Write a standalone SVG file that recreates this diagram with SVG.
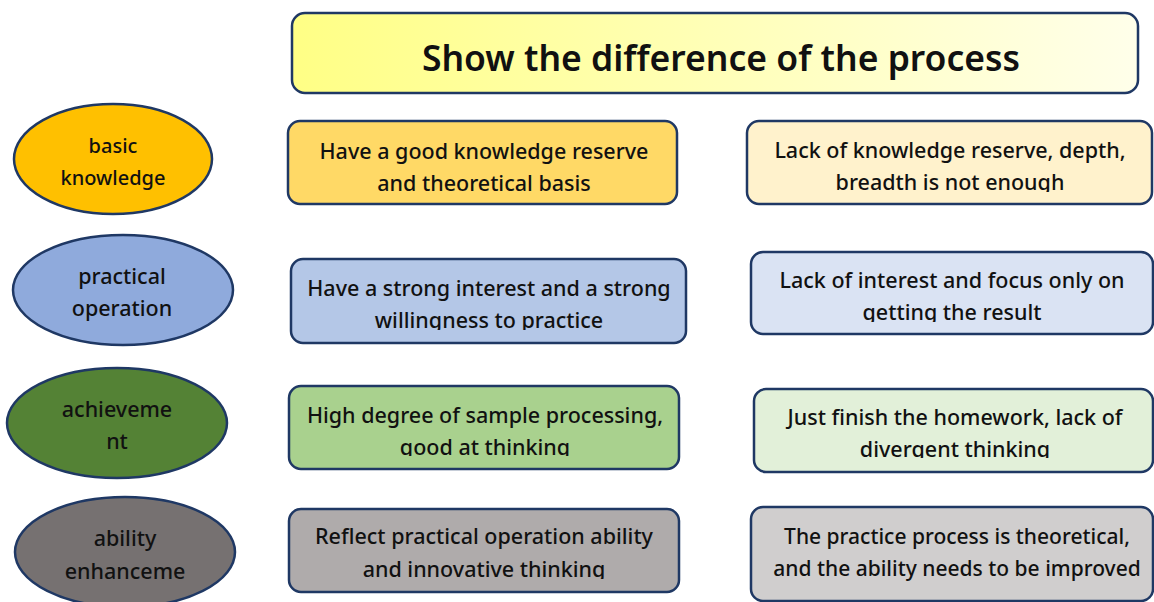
<svg xmlns="http://www.w3.org/2000/svg" width="1154" height="602" viewBox="0 0 1154 602">
<defs>
<linearGradient id="tg" x1="0" y1="0" x2="1" y2="0">
<stop offset="0" stop-color="#FFFF85"/>
<stop offset="1" stop-color="#FFFFEA"/>
</linearGradient>
<clipPath id="c1"><rect x="740" y="120" width="414" height="72"/></clipPath>
<clipPath id="c2"><rect x="290" y="258" width="400" height="72"/></clipPath>
<clipPath id="c3"><rect x="750" y="250" width="404" height="72"/></clipPath>
<clipPath id="c4"><rect x="288" y="385" width="400" height="71"/></clipPath>
<clipPath id="c5"><rect x="750" y="388" width="404" height="70"/></clipPath>
<clipPath id="c6"><rect x="288" y="508" width="400" height="71"/></clipPath>
</defs>
<style>
.box{stroke:#1F3864;stroke-width:2.5}
.t{font-family:"Noto Sans","Liberation Sans",sans-serif;font-size:21.5px;font-weight:500;fill:#111;text-anchor:middle}
.e{font-family:"Noto Sans","Liberation Sans",sans-serif;font-size:21.5px;font-weight:500;fill:#111;text-anchor:middle}
.e.s{font-size:20px}
.title{font-family:"Noto Sans","Liberation Sans",sans-serif;font-size:35.5px;font-weight:600;fill:#111;text-anchor:middle}
</style>
<rect width="1154" height="602" fill="#FFFFFF"/>
<g id="title">
<rect class="box" x="292" y="13" width="846" height="80" rx="13" fill="url(#tg)"/>
<text class="title" x="721" y="71">Show the difference of the process</text>
</g>
<g id="e1">
<ellipse class="box" cx="113" cy="159" rx="99" ry="55" fill="#FFC000"/>
<text class="e s" x="113" y="153">basic</text>
<text class="e s" x="113" y="185">knowledge</text>
</g>
<g id="e2">
<ellipse class="box" cx="123" cy="290" rx="110" ry="55" fill="#8FAADC"/>
<text class="e" x="122" y="284">practical</text>
<text class="e" x="122" y="316">operation</text>
</g>
<g id="e3">
<ellipse class="box" cx="117" cy="423" rx="110" ry="55" fill="#548235"/>
<text class="e" x="117" y="417">achieveme</text>
<text class="e" x="117" y="449">nt</text>
</g>
<g id="e4">
<ellipse class="box" cx="125" cy="552" rx="110" ry="55" fill="#767171"/>
<text class="e" x="125" y="546">ability</text>
<text class="e" x="125" y="579">enhanceme</text>
</g>
<g id="m1">
<rect class="box" x="288" y="121" width="389" height="83" rx="12" fill="#FFD966"/>
<text class="t" x="484" y="159">Have a good knowledge reserve</text>
<text class="t" x="484" y="191">and theoretical basis</text>
</g>
<g id="r1">
<rect class="box" x="747" y="121" width="405" height="83" rx="12" fill="#FFF2CC"/>
<g clip-path="url(#c1)">
<text class="t" x="950" y="158">Lack of knowledge reserve, depth,</text>
<text class="t" x="950" y="190">breadth is not enough</text>
</g>
</g>
<g id="m2">
<rect class="box" x="291" y="259" width="395" height="84" rx="12" fill="#B4C7E7"/>
<g clip-path="url(#c2)">
<text class="t" x="489" y="296">Have a strong interest and a strong</text>
<text class="t" x="489" y="328">willingness to practice</text>
</g>
</g>
<g id="r2">
<rect class="box" x="751" y="252" width="402" height="82" rx="12" fill="#DAE3F3"/>
<g clip-path="url(#c3)">
<text class="t" x="952" y="288">Lack of interest and focus only on</text>
<text class="t" x="952" y="320">getting the result</text>
</g>
</g>
<g id="m3">
<rect class="box" x="289" y="386" width="390" height="83" rx="12" fill="#A9D18E"/>
<g clip-path="url(#c4)">
<text class="t" x="485" y="423">High degree of sample processing,</text>
<text class="t" x="485" y="455">good at thinking</text>
</g>
</g>
<g id="r3">
<rect class="box" x="754" y="389" width="399" height="83" rx="12" fill="#E2F0D9"/>
<g clip-path="url(#c5)">
<text class="t" x="955" y="425">Just finish the homework, lack of</text>
<text class="t" x="955" y="457">divergent thinking</text>
</g>
</g>
<g id="m4">
<rect class="box" x="289" y="509" width="390" height="83" rx="12" fill="#AFABAB"/>
<g clip-path="url(#c6)">
<text class="t" x="484" y="544">Reflect practical operation ability</text>
<text class="t" x="484" y="577">and innovative thinking</text>
</g>
</g>
<g id="r4">
<rect class="box" x="751" y="507" width="402" height="94" rx="12" fill="#D0CECE"/>
<text class="t" x="957" y="544" style="font-size:21px">The practice process is theoretical,</text>
<text class="t" x="957" y="576" style="font-size:21px">and the ability needs to be improved</text>
</g>
<g id="connectors"></g>
</svg>
